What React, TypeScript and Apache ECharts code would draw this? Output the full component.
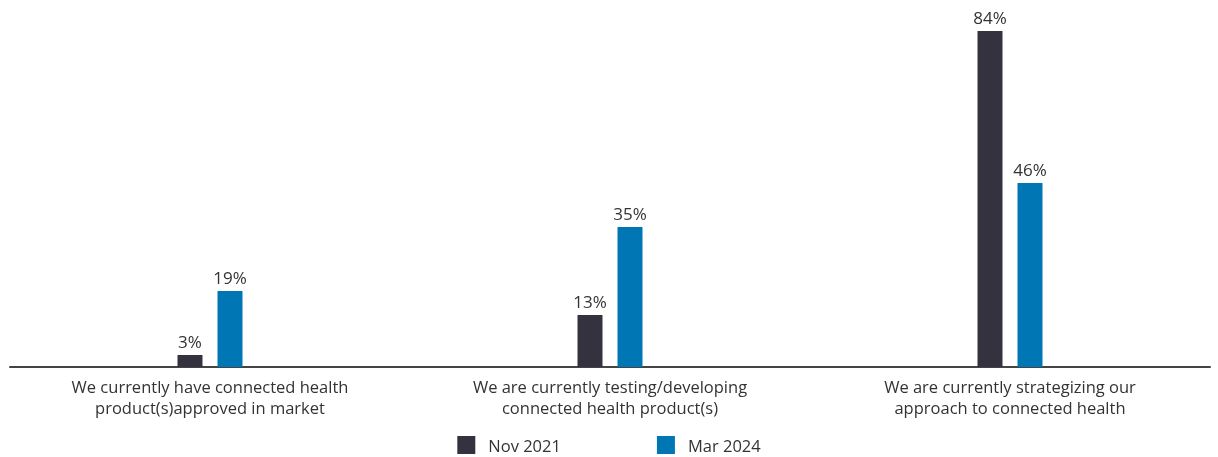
import React, { useEffect, useRef } from "react";
import * as echarts from "echarts";

const categories = [
  "We currently have connected health\nproduct(s)approved in market",
  "We are currently testing/developing\nconnected health product(s)",
  "We are currently strategizing our\napproach to connected health",
];
const nov2021 = [3, 13, 84];
const mar2024 = [19, 35, 46];
const seriesNames = ["Nov 2021", "Mar 2024"];

const FONT = "'Open Sans', 'Noto Sans', sans-serif";
const FS = 17;

export default function App() {
  const ref = useRef<HTMLDivElement>(null);
  useEffect(() => {
    document.body.style.margin = "0";
    const chart = echarts.init(ref.current!, null, { renderer: "svg" });
    const label = {
      show: true,
      position: "top" as const,
      distance: 5,
      formatter: "{c}%",
      color: "#333",
      fontSize: FS,
      fontFamily: FONT,
    };
    chart.setOption({
      animation: false,
      textStyle: { fontFamily: FONT },
      legend: {
        bottom: 3,
        left: "center",
        padding: 0,
        itemWidth: 18,
        itemHeight: 18,
        itemGap: 96,
        textStyle: {
          fontSize: 16.5,
          lineHeight: 18,
          color: "#333",
          fontFamily: FONT,
          padding: [0, 0, 0, 8],
        },
        data: seriesNames,
        icon: "rect",
      },
      grid: { left: 10, right: 8, top: 7, bottom: 90, containLabel: false },
      xAxis: {
        type: "category",
        data: categories,
        axisLine: { lineStyle: { color: "#444", width: 2 } },
        axisTick: { show: false },
        axisLabel: {
          color: "#333",
          fontSize: 16.5,
          lineHeight: 21,
          margin: 9,
          interval: 0,
          fontFamily: FONT,
        },
      },
      yAxis: {
        type: "value",
        min: 0,
        max: 90,
        show: false,
        splitLine: { show: false },
      },
      series: [
        {
          name: seriesNames[0],
          type: "bar",
          data: nov2021,
          barWidth: 25,
          barGap: "60%",
          itemStyle: { color: "#34323f" },
          label,
        },
        {
          name: seriesNames[1],
          type: "bar",
          data: mar2024,
          barWidth: 25,
          itemStyle: { color: "#0176b5" },
          label,
        },
      ],
    });
    return () => chart.dispose();
  }, []);
  return (
    <div
      ref={ref}
      style={{ position: "fixed", left: 0, top: 0, width: 1218, height: 457 }}
    />
  );
}
